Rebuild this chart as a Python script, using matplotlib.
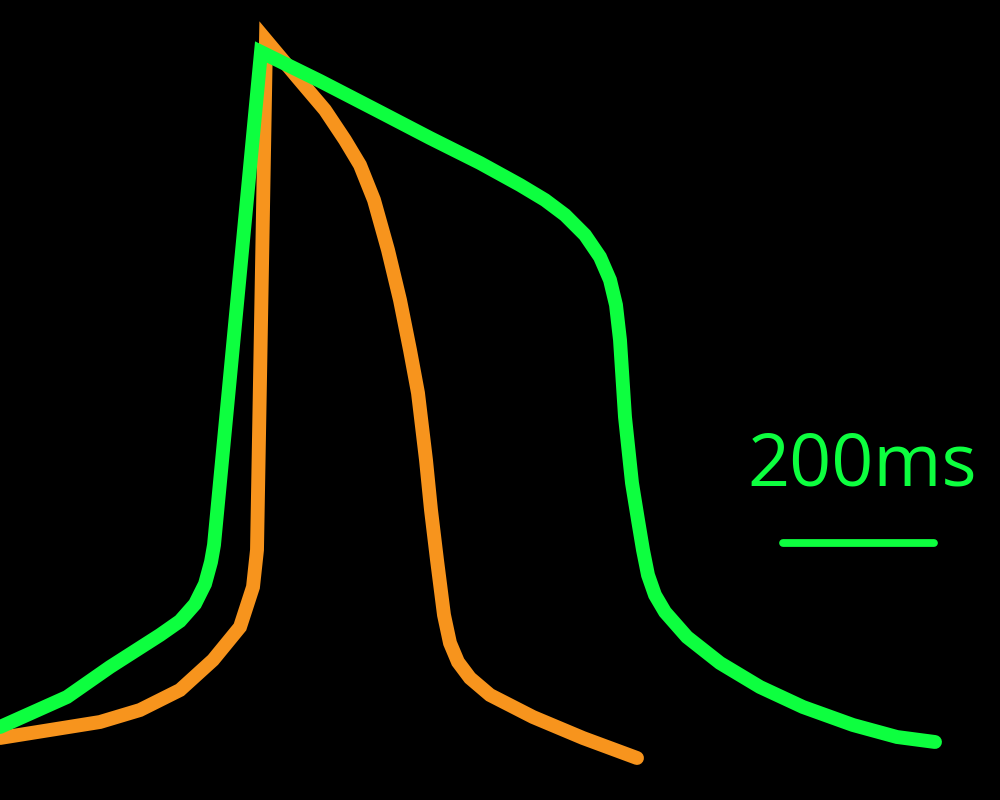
"""Schematic action potentials (two traces) with a 200 ms scale bar."""
import matplotlib
matplotlib.use("Agg")
import matplotlib.pyplot as plt

# traces, in pixel coordinates (y grows downward)
orange_x = [0, 50, 100, 140, 180, 213, 240, 253, 257, 266,
            297, 325, 345, 360, 374, 388, 400, 410, 418, 426, 431, 437, 444,
            450, 458, 470, 490, 533, 583, 637]
orange_y = [738, 730, 722, 710, 690, 660, 627, 587, 550, 40,
            77, 110, 140, 165, 200, 250, 300, 350, 393, 460, 510, 560, 615,
            643, 662, 678, 695, 717, 738, 758]

green_x = [0, 67, 110, 160, 180, 195, 205, 211, 214, 261,
           320, 380, 430, 480, 520, 545, 565, 585, 600, 610, 616, 620, 625,
           632, 638, 643, 648, 655, 665, 687, 720, 760, 803, 853, 897, 935]
green_y = [727, 697, 667, 635, 621, 604, 584, 562, 545, 52,
           81, 112, 138, 163, 185, 200, 215, 235, 257, 280, 305, 340, 417,
           483, 520, 550, 575, 595, 612, 637, 663, 687, 707, 725, 737, 742]

bar_x = [783, 934]
bar_y = [543, 543]
bar_label = "200ms"

ORANGE = "#F7941D"
GREEN = "#0DFF3F"

fig = plt.figure(figsize=(10, 8), dpi=100, facecolor="black")
ax = fig.add_axes([0, 0, 1, 1], facecolor="black")
ax.set_xlim(0, 1000)
ax.set_ylim(800, 0)
ax.axis("off")

ax.plot(orange_x, orange_y, color=ORANGE, lw=10,
        solid_joinstyle="miter", solid_capstyle="round")
ax.plot(green_x, green_y, color=GREEN, lw=10,
        solid_joinstyle="miter", solid_capstyle="round")

ax.plot(bar_x, bar_y, color=GREEN, lw=5.6, solid_capstyle="round")
ax.text(862, 466, bar_label, color=GREEN, fontsize=53, family="Open Sans",
        ha="center", va="center")

fig.savefig("out.png", dpi=100, facecolor="black")
